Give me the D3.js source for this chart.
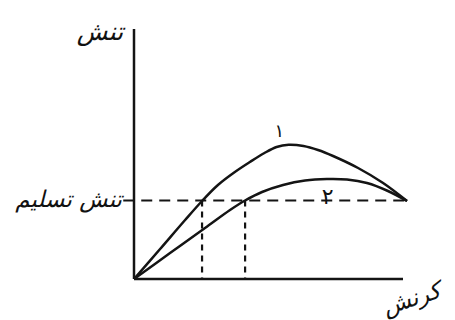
<!DOCTYPE html>
<html>
<head>
<meta charset="utf-8">
<script src="https://cdn.jsdelivr.net/npm/d3@7"></script>
<style>
  html, body { margin: 0; padding: 0; background: #fff; }
  svg { display: block; }
  text { font-family: "DejaVu Sans", sans-serif; fill: #111; }
</style>
</head>
<body>
<svg id="chart" width="455" height="320"></svg>
<script>
// ---- data (strain / stress in arbitrary units) ----
const curve1Strain = [0, 0.97, 1.90, 2.53, 3.12, 3.75, 4.31, 4.85, 5.30, 5.75, 6.30, 6.84, 7.40, 8.33, 9.26, 10.15];
const curve1Stress = [0, 1.20, 2.36, 3.12, 3.76, 4.28, 4.68, 5.04, 5.28, 5.37, 5.32, 5.16, 4.92, 4.44, 3.84, 3.12];
const curve2Strain = [0, 1.34, 2.64, 3.57, 4.13, 4.76, 5.54, 6.36, 7.17, 7.92, 8.66, 9.44, 10.15];
const curve2Stress = [0, 1.04, 2.04, 2.76, 3.14, 3.48, 3.76, 3.94, 4.00, 3.98, 3.84, 3.52, 3.12];
const yieldStress = 3.14;
const yieldStrain = [2.53, 4.13];          // where each curve reaches the yield stress
const curveLabels = ["۱", "۲"];
const yLabel = "تنش";
const xLabel = "کرنش";
const yieldLabel = "تنش تسلیم";

// ---- scales ----
const x = d3.scaleLinear().domain([0, 10]).range([134, 403]);
const y = d3.scaleLinear().domain([0, 10]).range([279, 29]);

const svg = d3.select("#chart");
const ink = "#141414";

// axes (plain lines, no ticks)
svg.append("line")
  .attr("x1", x(0)).attr("y1", y(0)).attr("x2", x(0)).attr("y2", y(10))
  .attr("stroke", ink).attr("stroke-width", 2.5);
svg.append("line")
  .attr("x1", x(0)).attr("y1", y(0)).attr("x2", x(10)).attr("y2", y(0))
  .attr("stroke", ink).attr("stroke-width", 2.5);

// yield stress dashed line
svg.append("line")
  .attr("x1", x(-0.4)).attr("y1", y(yieldStress))
  .attr("x2", x(10.15)).attr("y2", y(yieldStress))
  .attr("stroke", ink).attr("stroke-width", 2.2)
  .attr("stroke-dasharray", "11,7");

// vertical dashed drops
svg.selectAll("line.drop").data(yieldStrain).enter().append("line")
  .attr("class", "drop")
  .attr("x1", d => x(d)).attr("x2", d => x(d))
  .attr("y1", y(yieldStress)).attr("y2", y(0))
  .attr("stroke", ink).attr("stroke-width", 2.2)
  .attr("stroke-dasharray", "6,5");

// curves
const line = d3.line()
  .x(d => x(d[0])).y(d => y(d[1]))
  .curve(d3.curveCatmullRom.alpha(0.5));
const curves = [
  d3.zip(curve1Strain, curve1Stress),
  d3.zip(curve2Strain, curve2Stress)
];
svg.selectAll("path.curve").data(curves).enter().append("path")
  .attr("class", "curve")
  .attr("d", line)
  .attr("fill", "none")
  .attr("stroke", ink).attr("stroke-width", 2.5);

// curve labels
svg.append("text").attr("x", x(5.4)).attr("y", y(5.7))
  .attr("text-anchor", "middle").attr("font-size", 18).text(curveLabels[0]);
svg.append("text").attr("x", x(7.2)).attr("y", y(3.0))
  .attr("text-anchor", "middle").attr("font-size", 22).text(curveLabels[1]);

// axis titles
svg.append("text").attr("x", 100).attr("y", 40)
  .attr("text-anchor", "middle").attr("font-size", 25).attr("font-style", "italic")
  .text(yLabel);
svg.append("text").attr("x", 122).attr("y", 207)
  .attr("text-anchor", "end").attr("font-size", 23).attr("font-style", "italic")
  .text(yieldLabel);
svg.append("text")
  .attr("transform", "translate(414,306) rotate(-18)")
  .attr("text-anchor", "middle").attr("font-size", 23).attr("font-style", "italic")
  .text(xLabel);
</script>
</body>
</html>
